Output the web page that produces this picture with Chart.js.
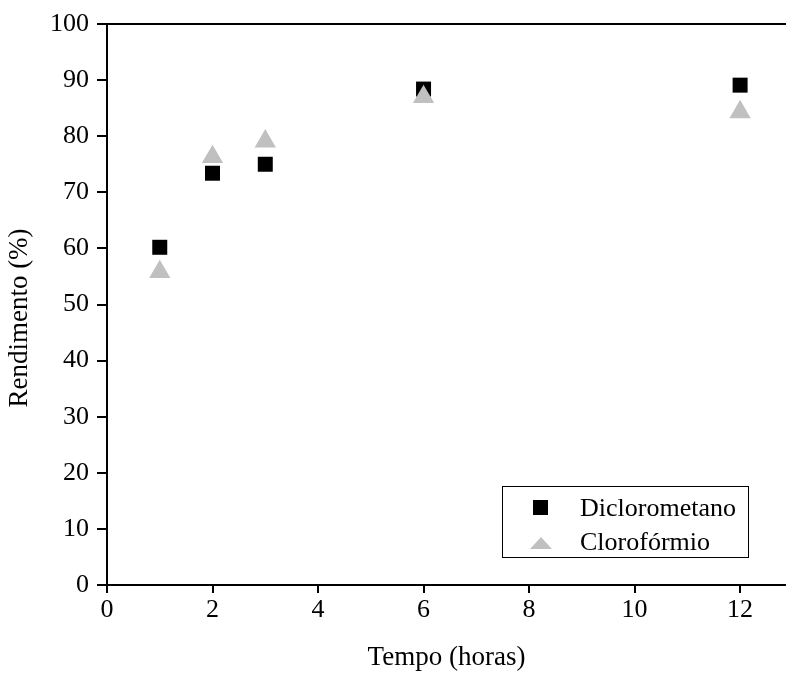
<!DOCTYPE html>
<html>
<head>
<meta charset="utf-8">
<script src="https://cdn.jsdelivr.net/npm/chart.js@4"></script>
<style>
  html, body { margin: 0; padding: 0; background: #fff; }
  #wrap { width: 786px; height: 676px; position: relative; }
</style>
</head>
<body>
<div id="wrap"><canvas id="yield-chart"></canvas></div>
<script>
// Tempo (horas) vs Rendimento (%)
const tempos = [1, 2, 3, 6, 12];
const dicloro = [60.2, 73.4, 75.0, 88.4, 89.1];
const cloroformio = [55.8, 76.3, 79.1, 87.0, 84.3];
const xTicks = [0, 2, 4, 6, 8, 10, 12];
const seriesLabels = ['Diclorometano', 'Clorofórmio'];
const xTitle = 'Tempo (horas)';
const yTitle = 'Rendimento (%)';

const serif = 'Liberation Serif';
const fontMain = { family: serif, size: 26 };

function toPoints(xs, ys) {
  return xs.map((x, i) => ({ x: x, y: ys[i] }));
}

// frame top line, axis titles, boxed legend
const framePlugin = {
  id: 'framePlugin',
  afterDraw(chart) {
    const ctx = chart.ctx;
    const a = chart.chartArea;
    ctx.save();
    ctx.strokeStyle = '#000';
    ctx.lineWidth = 2;
    ctx.beginPath();
    ctx.moveTo(a.left, a.top);
    ctx.lineTo(a.right, a.top);
    ctx.stroke();

    // axis titles
    ctx.fillStyle = '#000';
    ctx.font = '27px "' + serif + '"';
    ctx.textAlign = 'center';
    ctx.textBaseline = 'alphabetic';
    ctx.fillText(xTitle, (a.left + a.right) / 2, 665);
    ctx.save();
    ctx.translate(27, 318);
    ctx.rotate(-Math.PI / 2);
    ctx.fillText(yTitle, 0, 0);
    ctx.restore();

    // legend box
    const bx = 502.5, by = 486.5, bw = 246, bh = 71;
    ctx.lineWidth = 1;
    ctx.strokeRect(bx, by, bw, bh);

    ctx.font = '26px "' + serif + '"';
    ctx.textAlign = 'left';
    const rows = [507.5, 542];
    chart.data.datasets.forEach((ds, i) => {
      ctx.fillStyle = ds.backgroundColor;
      if (ds.pointStyle === 'rect') {
        ctx.fillRect(533, rows[i] - 7.5, 15, 15);
      } else {
        ctx.beginPath();
        ctx.moveTo(541, rows[i] - 5);
        ctx.lineTo(552, rows[i] + 7);
        ctx.lineTo(530, rows[i] + 7);
        ctx.closePath();
        ctx.fill();
      }
      ctx.fillStyle = '#000';
      ctx.fillText(ds.label, 580, rows[i] + 8);
    });
    ctx.restore();
  }
};

new Chart(document.getElementById('yield-chart'), {
  type: 'scatter',
  data: {
    datasets: [
      {
        label: seriesLabels[0],
        data: toPoints(tempos, dicloro),
        pointStyle: 'rect',
        pointRadius: 10.6,
        pointHoverRadius: 10.6,
        backgroundColor: '#000',
        borderWidth: 0,
        order: 1
      },
      {
        label: seriesLabels[1],
        data: toPoints(tempos, cloroformio),
        pointStyle: 'triangle',
        pointRadius: 12.3,
        pointHoverRadius: 12.3,
        backgroundColor: '#c0c0c0',
        borderWidth: 0,
        order: 0
      }
    ]
  },
  options: {
    responsive: true,
    maintainAspectRatio: false,
    animation: false,
    layout: { autoPadding: false, padding: { top: 24, right: 0, left: 0, bottom: 0 } },
    plugins: {
      legend: { display: false },
      tooltip: { enabled: false }
    },
    scales: {
      x: {
        type: 'linear',
        min: 0,
        max: 12.87,
        afterBuildTicks: (s) => { s.ticks = xTicks.map(v => ({ value: v })); },
        afterFit: (s) => { s.height = 91; s.paddingLeft = 0; s.paddingRight = 0; },
        ticks: { color: '#000', font: fontMain, padding: 2, maxRotation: 0 },
        grid: { drawOnChartArea: false, drawTicks: true, tickLength: 8, color: '#000', lineWidth: 2 },
        border: { color: '#000', width: 2 }
      },
      y: {
        min: 0,
        max: 100,
        afterFit: (s) => { s.width = 107; s.paddingTop = 0; s.paddingBottom = 0; },
        ticks: { stepSize: 10, color: '#000', font: fontMain, padding: 8 },
        grid: { drawOnChartArea: false, drawTicks: true, tickLength: 10, color: '#000', lineWidth: 2 },
        border: { color: '#000', width: 2 }
      }
    }
  },
  plugins: [framePlugin]
});
</script>
</body>
</html>
